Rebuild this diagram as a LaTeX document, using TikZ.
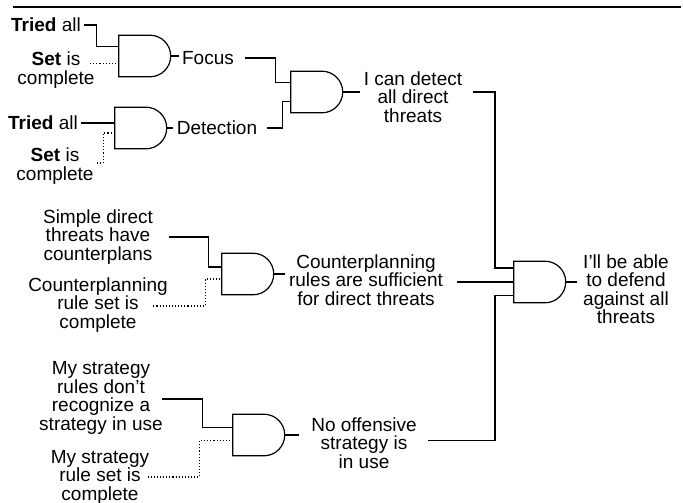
\documentclass[tikz,border=0pt]{standalone}
\usepackage{fontspec}
\setmainfont{Liberation Sans}
\usetikzlibrary{calc, shapes.gates.logic.US}

\begin{document}
\begin{tikzpicture}[x=1pt, y=-1pt, line width=1.2pt,
    txt/.style={align=center, inner sep=3pt, font=\fontsize{19}{18.5}\selectfont},
    andg/.style={and gate US, draw, inner sep=0pt, minimum height=36pt, minimum width=52pt},
    dots/.style={dotted, line width=1.1pt}]
    \useasboundingbox (0,0) rectangle (683,503);
    \draw[line width=2pt] (13,7) -- (681,7);
    \coordinate (bus) at (495,0);

    % first column
    \node[txt] (tried1) at (46,25) {\textbf{Tried} all};
    \node[txt] (setc1) at (56,70) {\textbf{Set} is\\complete};
    \node[txt] (tried2) at (43,123) {\textbf{Tried} all};
    \node[txt] (setc2) at (55,166) {\textbf{Set} is\\complete};
    \node[txt] (simple) at (98,237) {Simple direct\\threats have\\counterplans};
    \node[txt] (cpset) at (98,305) {Counterplanning\\rule set is\\complete};
    \node[txt] (strat) at (101,398) {My strategy\\rules don't\\recognize a\\strategy in use};
    \node[txt] (stset) at (100,477) {My strategy\\rule set is\\complete};

    % gates and their input pins
    \node[andg] (g1) at (143,56) {};
    \node[andg] (g2) at (139,128) {};
    \node[andg] (g3) at (315,92) {};
    \node[andg] (g5) at (246,274) {};
    \node[andg] (g6) at (257,435) {};
    \node[andg] (g4) at (538,282) {};
    \coordinate (g1a) at ($(g1.west)+(0,-9.5)$);
    \coordinate (g1b) at ($(g1.west)+(0,7.5)$);
    \coordinate (g2a) at ($(g2.west)+(0,-5)$);
    \coordinate (g2b) at ($(g2.west)+(0,5)$);
    \coordinate (g3a) at ($(g3.west)+(0,-9.5)$);
    \coordinate (g3b) at ($(g3.west)+(0,9.5)$);
    \coordinate (g5a) at ($(g5.west)+(0,-7)$);
    \coordinate (g5b) at ($(g5.west)+(0,5)$);
    \coordinate (g6a) at ($(g6.west)+(0,-7.5)$);
    \coordinate (g6b) at ($(g6.west)+(0,5.5)$);
    \coordinate (g4a) at ($(g4.west)+(0,-14)$);
    \coordinate (g4b) at (g4.west);
    \coordinate (g4c) at ($(g4.west)+(0,13.5)$);

    % results
    \node[txt] (focus) at (208,58) {Focus};
    \node[txt] (detection) at (217,128) {Detection};
    \node[txt] (detect) at (413,97) {I can detect\\all direct\\threats};
    \node[txt] (suff) at (366,280) {Counterplanning\\rules are sufficient\\for direct threats};
    \node[txt] (offens) at (364,443) {No offensive\\strategy is\\in use};
    \node[txt] (defend) at (626,289) {I'll be able\\to defend\\against all\\threats};

    % wires
    \draw (tried1.east) -- ++(12,0) |- (g1a);
    \draw[dots] (setc1.east |- g1b) ++(-8,0) -- (g1b);
    \draw (tried2.east |- g2a) -- (g2a);
    \draw[dots] ([yshift=3pt]setc2.east) -- ++(6,0) |- (g2b);
    \draw (g1.output) -- (g1.output -| focus.west);
    \draw (g2.output) -- (detection.west);
    \draw (focus.east) ++(8,0) -- ++(30,0) |- (g3a);
    \draw (detection.east) ++(6,0) -- ++(16,0) |- (g3b);
    \draw (g3.output) -- (g3.output -| detect.west);
    \draw (detect.east |- g3.output) ++(7,0) -- (bus |- g3.output) |- (g4a);

    \draw (simple.east) ++(12,0) -- ++(40,0) |- (g5a);
    \draw[dots] (cpset.east) ++(-18,1) -- ++(52,0) |- (g5b);
    \draw (g5.output) -- (g5.output -| suff.west);
    \draw (suff.east |- g4b) ++(10,0) -- (g4b);

    \draw (strat.east) ++(-4,1) -- ++(40,0) |- (g6a);
    \draw[dots] (stset.east) ++(-5,0) -- ++(52,0) |- (g6b);
    \draw[shorten >=9pt] (g6.output) -- (g6.output -| offens.west);
    \draw (offens.east |- g6b) ++(8,0) -- (bus |- g6b) |- (g4c);

    \draw[shorten >=3pt] (g4.output) -- (g4.output -| defend.west);
\end{tikzpicture}
\end{document}
